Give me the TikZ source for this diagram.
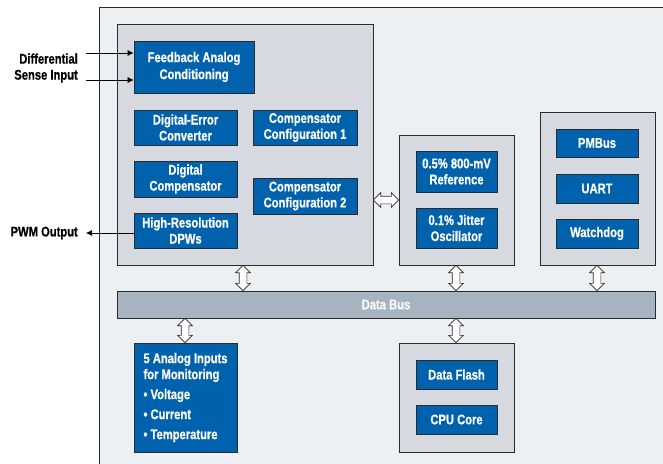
\documentclass[tikz,border=0pt]{standalone}
\usepackage{fontspec}
\setmainfont{Liberation Sans}[FakeStretch=0.8,BoldFeatures={FakeBold=0.6}]
\usetikzlibrary{shapes.arrows,calc,arrows.meta}
\definecolor{bgc}{HTML}{ECF0F3}
\definecolor{blockc}{HTML}{D6DAE0}
\definecolor{bluec}{HTML}{0061AD}
\definecolor{busc}{HTML}{A6B3C1}
\definecolor{edgec}{HTML}{2B2B2B}
\begin{document}
\begin{tikzpicture}[x=1pt,y=-1pt,
  font=\fontsize{14}{16}\selectfont\bfseries,
  gblock/.style={draw=edgec, fill=blockc, line width=0.8pt, inner sep=0pt},
  bbox/.style={draw=edgec, fill=bluec, text=white, line width=0.8pt, inner sep=0pt, align=center},
  dblarrow/.style={double arrow, draw=edgec, fill=white, line width=0.6pt, inner sep=3.5pt,
    minimum width=14pt, double arrow head extend=3.5pt, double arrow tip angle=90},
  fat/.style={to path={let \p1=(\tikztostart), \p2=(\tikztotarget),
    \n1={atan2(\y2-\y1,\x2-\x1)}, \n2={veclen(\x2-\x1,\y2-\y1)} in
    node[dblarrow, rotate=\n1, minimum height=\n2] at ($(\tikztostart)!0.5!(\tikztotarget)$) {}}},
  sig/.style={draw=black, line width=0.6pt, -{Latex[length=6pt,width=6pt]}},
  lbl/.style={text=black, align=right, inner sep=0pt, anchor=east}
]
\useasboundingbox (0,0) rectangle (663,463);
\clip (0,0) rectangle (663,463);
\fill[white] (0,0) rectangle (663,463);
\draw[draw=edgec, fill=bgc, line width=0.8pt] (99,7) rectangle (680,480);

% gray blocks
\node[gblock, minimum width=256pt, minimum height=241pt] (main) at (245,144.5) {};
\node[gblock, minimum width=115pt, minimum height=130pt] (refblk) at (456.5,200) {};
\node[gblock, minimum width=115pt, minimum height=153pt] (ifblk) at (597.5,188.5) {};
\node[gblock, minimum width=115pt, minimum height=109pt] (cpublk) at (456.5,397.5) {};
\node[gblock, fill=busc, minimum width=538pt, minimum height=27pt, text=white!90!busc] (bus) at (386,304.5) {Data Bus};

% blue boxes
\node[bbox, minimum width=120pt, minimum height=52pt] (fb) at (194,67) {Feedback Analog\\[1pt]Conditioning};
\node[bbox, minimum width=103pt, minimum height=35pt] (dec) at (185.5,127.5) {Digital-Error\\Converter};
\node[bbox, minimum width=104pt, minimum height=35pt] (cc1) at (305,127.5) {Compensator\\Configuration 1};
\node[bbox, minimum width=103pt, minimum height=36pt] (dc) at (185.5,179) {Digital\\Compensator};
\node[bbox, minimum width=104pt, minimum height=36pt] (cc2) at (305,196) {Compensator\\Configuration 2};
\node[bbox, minimum width=103pt, minimum height=35pt] (hr) at (185.5,230.5) {High-Resolution\\DPWs};
\node[bbox, minimum width=81pt, minimum height=41pt] (ref) at (456.5,171.5) {0.5\% 800-mV\\Reference};
\node[bbox, minimum width=81pt, minimum height=40pt] (osc) at (456.5,228) {0.1\% Jitter\\Oscillator};
\node[bbox, minimum width=82pt, minimum height=28pt] (pmb) at (597,143) {PMBus};
\node[bbox, minimum width=82pt, minimum height=29pt] (uart) at (597,188.5) {UART};
\node[bbox, minimum width=82pt, minimum height=29pt] (wd) at (597,233.5) {Watchdog};
\node[bbox, minimum width=103pt, minimum height=109pt, align=left] (ana) at (185.5,397.5)
  {5 Analog Inputs\\for Monitoring\\[4pt]• Voltage\\[4pt]• Current\\[4pt]• Temperature};
\node[bbox, minimum width=81pt, minimum height=29pt] (df) at (456.5,374.5) {Data Flash};
\node[bbox, minimum width=81pt, minimum height=29pt] (cpu) at (456.5,419.5) {CPU Core};

% external signals
\coordinate (in1) at (86,53);
\coordinate (in2) at (86,80);
\coordinate (pwm) at (86,233);
\draw[sig] (in1) -- (in1 -| fb.west);
\draw[sig] (in2) -- (in2 -| fb.west);
\draw[sig] (pwm -| hr.west) -- (pwm);
\node[lbl] (difflbl) at (78,68) {Differential\\Sense Input};
\node[lbl] (pwmlbl) at (78,233) {PWM Output};

% fat double arrows
\path[fat] (main.east |- 0,200) to (refblk.west |- 0,200);
\path[fat] (main.south -| 243,0) to (bus.north -| 243,0);
\path[fat] (refblk.south -| 456,0) to (bus.north -| 456,0);
\path[fat] (ifblk.south -| 597,0) to (bus.north -| 597,0);
\path[fat] (bus.south -| 185,0) to (ana.north -| 185,0);
\path[fat] (bus.south -| 456,0) to (cpublk.north -| 456,0);
\end{tikzpicture}
\end{document}
